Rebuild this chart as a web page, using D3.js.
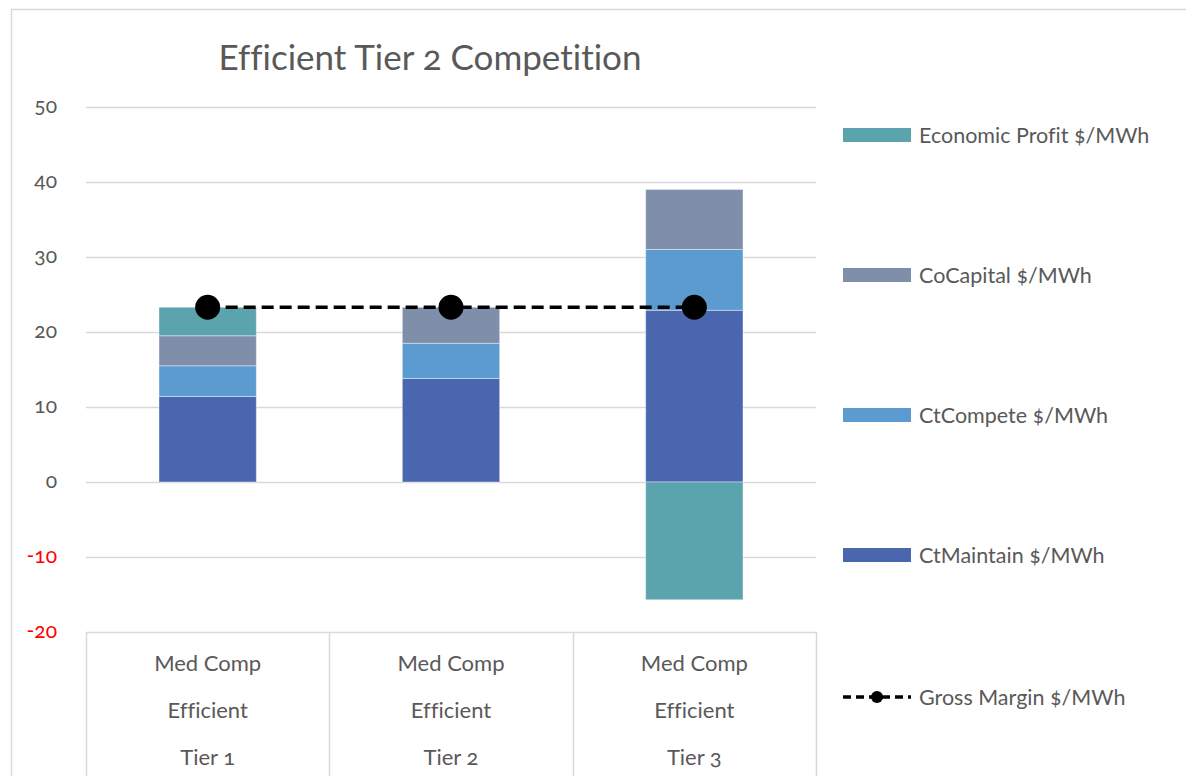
<!DOCTYPE html>
<html>
<head>
<meta charset="utf-8">
<script src="https://cdn.jsdelivr.net/npm/d3@7"></script>
<style>
  body { margin: 0; background: #fff; }
  text {
    font-family: Lato, "Open Sans", sans-serif; fill: #595959;
    font-variant-ligatures: none; font-variant-numeric: oldstyle-nums;
  }
</style>
</head>
<body>
<div id="chart"></div>
<script>
"use strict";

// data
var categories = [
  ["Med Comp", "Efficient", "Tier 1"],
  ["Med Comp", "Efficient", "Tier 2"],
  ["Med Comp", "Efficient", "Tier 3"]
];
var ctMaintain = [11.4, 13.8, 22.9];
var ctCompete = [4.1, 4.7, 8.1];
var coCapital = [4.0, 4.8, 8.0];
var economicProfit = [3.8, 0, -15.7];
var grossMargin = [23.3, 23.3, 23.3];
var yTicks = [50, 40, 30, 20, 10, 0, -10, -20];

var seriesNames = ["CtMaintain $/MWh", "CtCompete $/MWh", "CoCapital $/MWh", "Economic Profit $/MWh"];
var seriesColors = ["#4a66ae", "#5b9bd0", "#7f8faa", "#5ba4ad"];
var seriesVals = [ctMaintain, ctCompete, coCapital, economicProfit];

var W = 1186, H = 776;

var svg = d3.select("#chart").append("svg")
  .attr("width", W).attr("height", H);

// chart frame
svg.append("rect")
  .attr("x", 11.5).attr("y", 9.5)
  .attr("width", W + 20).attr("height", H + 20)
  .attr("fill", "none").attr("stroke", "#d9d9d9").attr("stroke-width", 1.5);

var x = d3.scaleBand()
  .domain(d3.range(categories.length))
  .range([86, 816])
  .paddingInner(0.6).paddingOuter(0.3);

var xCat = d3.scaleBand()
  .domain(d3.range(categories.length))
  .range([86, 816]);

var y = d3.scaleLinear().domain([-20, 50]).range([632, 107]);

// gridlines
svg.append("g").selectAll("line")
  .data(yTicks.filter(function (t) { return t > -20; }))
  .enter().append("line")
  .attr("x1", 86).attr("x2", 816)
  .attr("y1", function (d) { return Math.round(y(d)) + 0.5; })
  .attr("y2", function (d) { return Math.round(y(d)) + 0.5; })
  .attr("stroke", "#d9d9d9").attr("stroke-width", 1.5);

// y labels
svg.append("g").selectAll("text")
  .data(yTicks)
  .enter().append("text")
  .attr("x", 57)
  .attr("y", function (d) { return y(d); })
  .attr("dy", "0.3em")
  .attr("text-anchor", "end")
  .style("font-size", "21px")
  .style("fill", function (d) { return d < 0 ? "#ff0000" : "#595959"; })
  .text(function (d) { return d; });

// stacked bars (positives stack up, negatives stack down)
var bars = [];
categories.forEach(function (c, i) {
  var pos = 0, neg = 0;
  seriesVals.forEach(function (vals, s) {
    var v = vals[i];
    if (v >= 0) {
      bars.push({ i: i, s: s, y0: pos, y1: pos + v });
      pos += v;
    } else {
      bars.push({ i: i, s: s, y0: neg + v, y1: neg });
      neg += v;
    }
  });
});

svg.append("g").selectAll("rect")
  .data(bars.filter(function (b) { return b.y1 !== b.y0; }))
  .enter().append("rect")
  .attr("x", function (d) { return x(d.i); })
  .attr("width", x.bandwidth())
  .attr("y", function (d) { return y(d.y1); })
  .attr("height", function (d) { return y(d.y0) - y(d.y1); })
  .attr("fill", function (d) { return seriesColors[d.s]; })
  .attr("stroke", "#fff").attr("stroke-opacity", 0.4).attr("stroke-width", 1);

// category axis box
var axG = svg.append("g");
axG.append("line")
  .attr("x1", 86).attr("x2", 816).attr("y1", 632.5).attr("y2", 632.5)
  .attr("stroke", "#d9d9d9").attr("stroke-width", 1.5);
axG.selectAll("line.div")
  .data(d3.range(categories.length + 1))
  .enter().append("line")
  .attr("class", "div")
  .attr("x1", function (d) { return Math.round(86 + d * xCat.bandwidth()) + 0.5; })
  .attr("x2", function (d) { return Math.round(86 + d * xCat.bandwidth()) + 0.5; })
  .attr("y1", 632).attr("y2", H)
  .attr("stroke", "#d9d9d9").attr("stroke-width", 1.5);

categories.forEach(function (lines, i) {
  lines.forEach(function (t, j) {
    axG.append("text")
      .attr("x", xCat(i) + xCat.bandwidth() / 2)
      .attr("y", 663 + j * 47)
      .attr("dy", "0.35em")
      .attr("text-anchor", "middle")
      .style("font-size", "22px")
      .text(t);
  });
});

// gross margin line
var line = d3.line()
  .x(function (d, i) { return x(i) + x.bandwidth() / 2; })
  .y(function (d) { return y(d); });

svg.append("path")
  .datum(grossMargin)
  .attr("d", line)
  .attr("fill", "none")
  .attr("stroke", "#000").attr("stroke-width", 3.5)
  .attr("stroke-dasharray", "12,6");

svg.append("g").selectAll("circle")
  .data(grossMargin)
  .enter().append("circle")
  .attr("cx", function (d, i) { return x(i) + x.bandwidth() / 2; })
  .attr("cy", function (d) { return y(d); })
  .attr("r", 12.5)
  .attr("fill", "#000");

// title
svg.append("text")
  .attr("x", 430).attr("y", 58)
  .attr("dy", "0.35em")
  .attr("text-anchor", "middle")
  .style("font-size", "35px")
  .text("Efficient Tier 2 Competition");

// legend
var legendRows = [3, 2, 1, 0];
var legY = [135, 275, 415, 555];
var leg = svg.append("g");
legendRows.forEach(function (s, k) {
  leg.append("rect")
    .attr("x", 843).attr("y", legY[k] - 7)
    .attr("width", 68).attr("height", 14)
    .attr("fill", seriesColors[s]);
  leg.append("text")
    .attr("x", 919).attr("y", legY[k])
    .attr("dy", "0.35em")
    .style("font-size", "21.5px")
    .text(seriesNames[s]);
});
leg.append("line")
  .attr("x1", 843).attr("x2", 911).attr("y1", 697).attr("y2", 697)
  .attr("stroke", "#000").attr("stroke-width", 3.5)
  .attr("stroke-dasharray", "8,5");
leg.append("circle")
  .attr("cx", 877).attr("cy", 697).attr("r", 6).attr("fill", "#000");
leg.append("text")
  .attr("x", 919).attr("y", 697)
  .attr("dy", "0.35em")
  .style("font-size", "21.5px")
  .text("Gross Margin $/MWh");
</script>
</body>
</html>
